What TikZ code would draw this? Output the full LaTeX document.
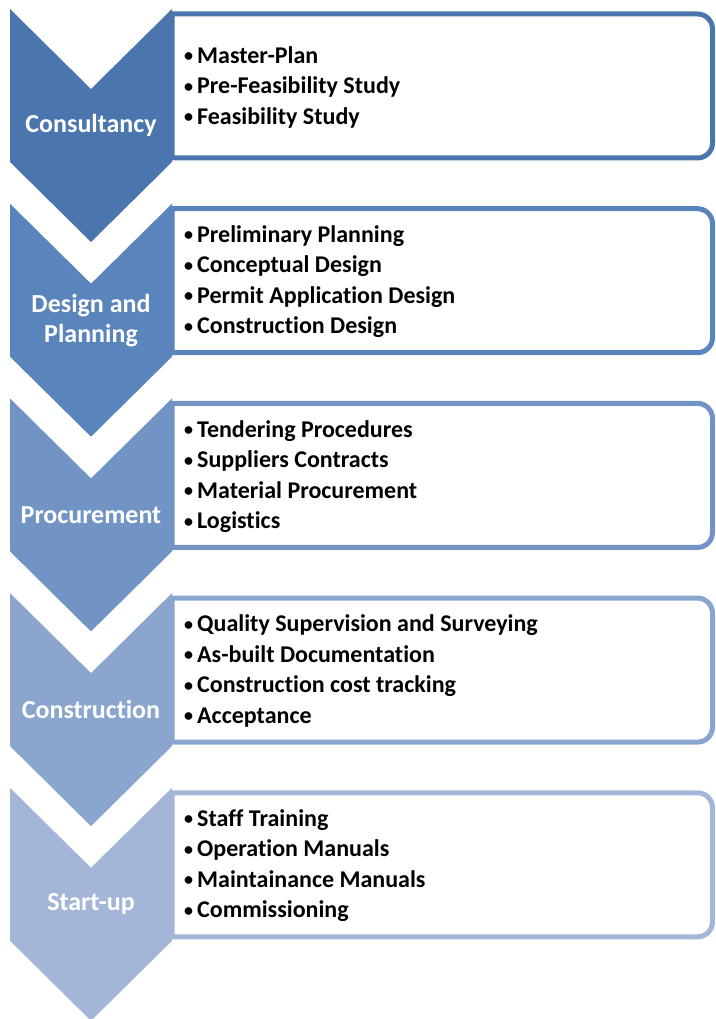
\documentclass[tikz,border=0pt]{standalone}
\usepackage{fontspec}
\setmainfont{Carlito}[Ligatures=NoCommon]
\usepackage{xcolor}
\usepackage{tikz}

\definecolor{stageA}{RGB}{74,118,173}
\definecolor{stageB}{RGB}{90,132,188}
\definecolor{stageC}{RGB}{113,148,196}
\definecolor{stageD}{RGB}{138,165,206}
\definecolor{stageE}{RGB}{163,182,215}

% 小さな箇条書き記号
\newcommand{\itemdot}{\makebox[15pt][l]{\hspace{2pt}\raisebox{1.5pt}{\fontsize{18}{18}\selectfont •}}}

\begin{document}
\begin{tikzpicture}[
          x=1pt,y=1pt,
          chevron/.style={
              fill=#1
            },
          itembox/.style={
              draw=#1,
              fill=white,
              line width=5pt
            },
          stagelabel/.style={
              text=white,
              align=center,
              font=\bfseries\fontsize{26}{30}\selectfont
            },
          itemlist/.style={
              anchor=west,
              inner sep=0pt,
              align=left,
              font=\bfseries\fontsize{24}{30.5}\selectfont
            }
        ]
        % 画像全体の大きさ
        \useasboundingbox (0,0) rectangle (715,-1019);

        % 第1段階
        \begin{scope}[yshift=-9pt]
          \draw[itembox=stageA] (172,-5) -- (697.5,-5)
            arc[start angle=90,end angle=0,radius=15] -- (712.5,-134)
            arc[start angle=0,end angle=-90,radius=15] -- (172,-149) -- cycle;
          \fill[chevron=stageA] (10,0) -- (91,-80) -- (172,0) -- (172,-153)
            -- (91,-233) -- (10,-153) -- cycle;
          \node[stagelabel] (consultancy_label) at (91,-116.5) {Consultancy};
          \node[itemlist] (consultancy_items) at (182,-78)
            {\itemdot Master-Plan\\\itemdot Pre-Feasibility Study\\\itemdot Feasibility Study};
        \end{scope}

        % 第2段階
        \begin{scope}[yshift=-203.7pt]
          \draw[itembox=stageB] (172,-5) -- (697.5,-5)
            arc[start angle=90,end angle=0,radius=15] -- (712.5,-134)
            arc[start angle=0,end angle=-90,radius=15] -- (172,-149) -- cycle;
          \fill[chevron=stageB] (10,0) -- (91,-80) -- (172,0) -- (172,-153)
            -- (91,-233) -- (10,-153) -- cycle;
          \node[stagelabel] (design_label) at (91,-116.5) {Design and\\Planning};
          \node[itemlist] (design_items) at (182,-78)
            {\itemdot Preliminary Planning\\\itemdot Conceptual Design\\\itemdot Permit Application Design\\\itemdot Construction Design};
        \end{scope}

        % 第3段階
        \begin{scope}[yshift=-398.4pt]
          \draw[itembox=stageC] (172,-5) -- (697.5,-5)
            arc[start angle=90,end angle=0,radius=15] -- (712.5,-134)
            arc[start angle=0,end angle=-90,radius=15] -- (172,-149) -- cycle;
          \fill[chevron=stageC] (10,0) -- (91,-80) -- (172,0) -- (172,-153)
            -- (91,-233) -- (10,-153) -- cycle;
          \node[stagelabel] (procurement_label) at (91,-116.5) {Procurement};
          \node[itemlist] (procurement_items) at (182,-78)
            {\itemdot Tendering Procedures\\\itemdot Suppliers Contracts\\\itemdot Material Procurement\\\itemdot Logistics};
        \end{scope}

        % 第4段階
        \begin{scope}[yshift=-593.1pt]
          \draw[itembox=stageD] (172,-5) -- (697.5,-5)
            arc[start angle=90,end angle=0,radius=15] -- (712.5,-134)
            arc[start angle=0,end angle=-90,radius=15] -- (172,-149) -- cycle;
          \fill[chevron=stageD] (10,0) -- (91,-80) -- (172,0) -- (172,-153)
            -- (91,-233) -- (10,-153) -- cycle;
          \node[stagelabel] (construction_label) at (91,-116.5) {Construction};
          \node[itemlist] (construction_items) at (182,-78)
            {\itemdot Quality Supervision and Surveying\\\itemdot As-built Documentation\\\itemdot Construction cost tracking\\\itemdot Acceptance};
        \end{scope}

        % 第5段階
        \begin{scope}[yshift=-787.8pt]
          \draw[itembox=stageE] (172,-5) -- (697.5,-5)
            arc[start angle=90,end angle=0,radius=15] -- (712.5,-134)
            arc[start angle=0,end angle=-90,radius=15] -- (172,-149) -- cycle;
          \fill[chevron=stageE] (10,0) -- (91,-80) -- (172,0) -- (172,-153)
            -- (91,-233) -- (10,-153) -- cycle;
          \node[stagelabel] (startup_label) at (91,-116.5) {Start-up};
          \node[itemlist] (startup_items) at (182,-78)
            {\itemdot Staff Training\\\itemdot Operation Manuals\\\itemdot Maintainance Manuals\\\itemdot Commissioning};
        \end{scope}

      \end{tikzpicture}
\end{document}
